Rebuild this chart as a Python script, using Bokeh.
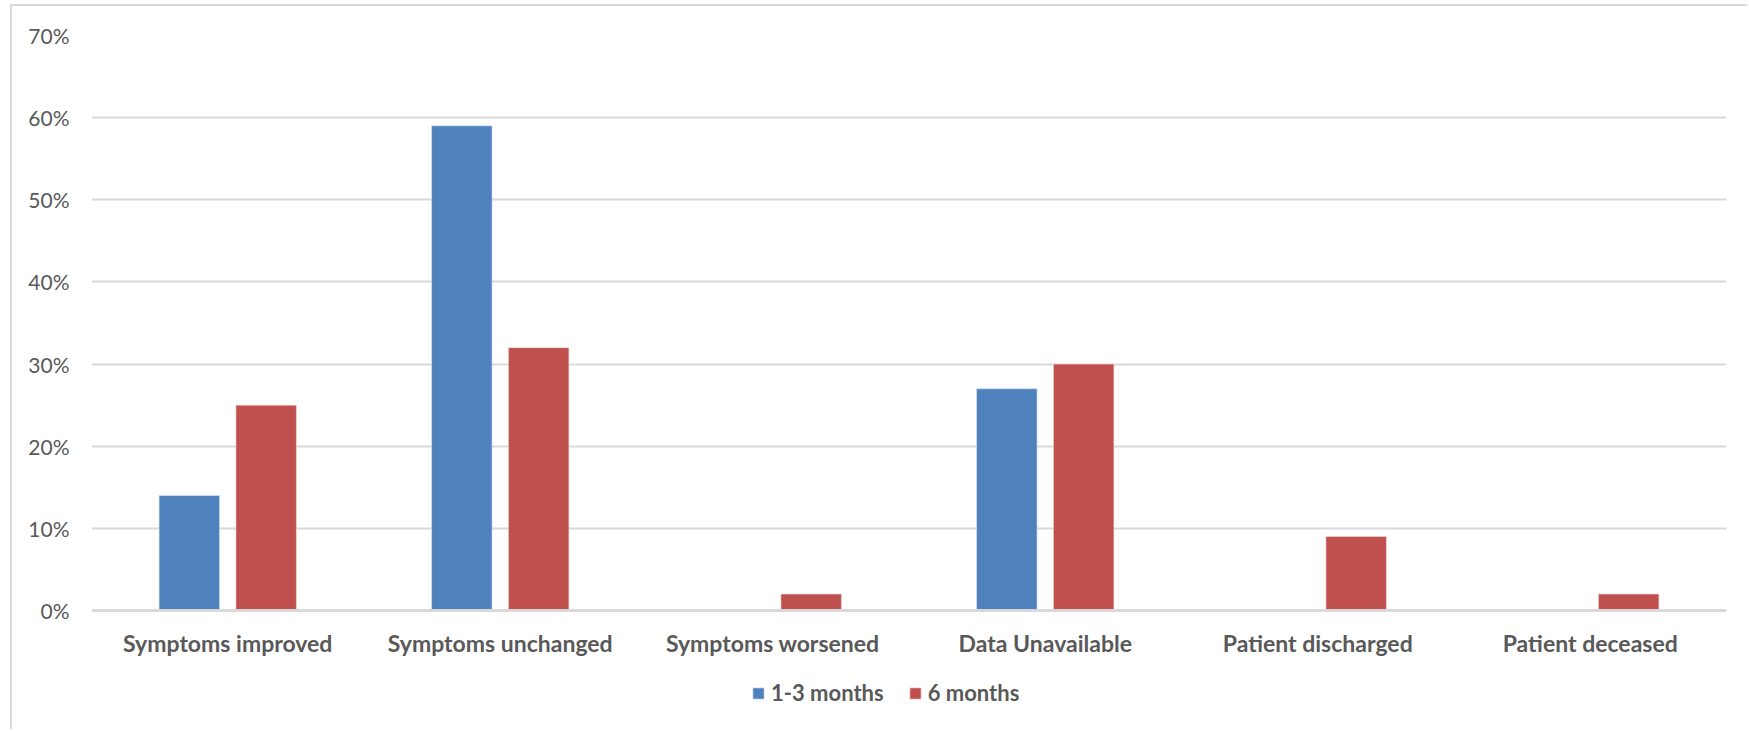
from bokeh.plotting import figure
from bokeh.models import (ColumnDataSource, FactorRange, Range1d, NumeralTickFormatter,
                          Legend, LegendItem, FixedTicker)
from bokeh.transform import dodge
from bokeh.embed import file_html
from bokeh.resources import INLINE

# Outcome categories and share of patients in each, per follow-up period
categories = ["Symptoms improved", "Symptoms unchanged", "Symptoms worsened",
              "Data Unavailable", "Patient discharged", "Patient deceased"]
months_1_3 = [0.14, 0.59, 0.0, 0.27, 0.0, 0.0]
months_6 = [0.25, 0.32, 0.02, 0.30, 0.09, 0.02]
series_names = ["1-3 months", "6 months"]
y_ticks = [0.0, 0.1, 0.2, 0.3, 0.4, 0.5, 0.6, 0.7]

BLUE = "#4F81BD"
RED = "#C0504D"
GRID = "#D9D9D9"
TEXT = "#595959"
FONT = "Lato"

# The frame runs to the bottom of the canvas so that the category names and
# the legend sit inside it, below the zero line.
PLOT_PX = 575     # height of the 0-70% band in pixels
BELOW_PX = 121    # room under the zero line
y_top = 0.70
y_bottom = -y_top * BELOW_PX / PLOT_PX

source = ColumnDataSource(dict(cat=categories, a=months_1_3, b=months_6))

p = figure(
    x_range=FactorRange(*categories, range_padding=0),
    y_range=Range1d(y_bottom, y_top),
    width=1737, height=725,
    output_backend="svg", toolbar_location=None,
    min_border_left=79, min_border_right=23,
    min_border_top=29, min_border_bottom=0,
    margin=(4, 0, 0, 10),
    styles={"border-top": f"2px solid {GRID}", "border-left": f"2px solid {GRID}"},
)

bar_w = 0.222
off = 0.141
r1 = p.vbar(x=dodge("cat", -off, range=p.x_range), top="a", bottom=0, width=bar_w,
            source=source, fill_color=BLUE, line_color="#DCE6F2", line_width=0.6)
r2 = p.vbar(x=dodge("cat", off, range=p.x_range), top="b", bottom=0, width=bar_w,
            source=source, fill_color=RED, line_color="#F2DCDB", line_width=0.6)

# value axis
p.yaxis.ticker = FixedTicker(ticks=y_ticks)
p.yaxis.formatter = NumeralTickFormatter(format="0%")
p.yaxis.axis_line_color = None
p.yaxis.major_tick_line_color = None
p.yaxis.minor_tick_line_color = None
p.yaxis.major_label_text_font = FONT
p.yaxis.major_label_text_font_size = "21px"
p.yaxis.major_label_text_color = TEXT
p.yaxis.major_label_standoff = 16

# category axis pinned to the zero line
p.xaxis.fixed_location = 0
p.xaxis.axis_line_color = GRID
p.xaxis.axis_line_width = 3
p.xaxis.major_tick_line_color = None
p.xaxis.minor_tick_line_color = None
p.xaxis.major_label_text_font = FONT
p.xaxis.major_label_text_font_style = "bold"
p.xaxis.major_label_text_font_size = "23px"
p.xaxis.major_label_text_color = TEXT
p.xaxis.major_label_standoff = 12

p.xgrid.grid_line_color = None
p.ygrid.grid_line_color = GRID
p.ygrid.grid_line_width = 2
p.outline_line_color = None

legend = Legend(
    items=[LegendItem(label=series_names[0], renderers=[r1]),
           LegendItem(label=series_names[1], renderers=[r2])],
    orientation="horizontal",
    location=(660, 25),
    glyph_width=14, glyph_height=14,
    label_standoff=6, spacing=24, padding=0, margin=0,
    label_text_font=FONT, label_text_font_style="bold",
    label_text_font_size="22px", label_text_color=TEXT,
    border_line_color=None, background_fill_alpha=0,
)
p.add_layout(legend, "center")

open("out.html", "w").write(file_html(p, INLINE))
